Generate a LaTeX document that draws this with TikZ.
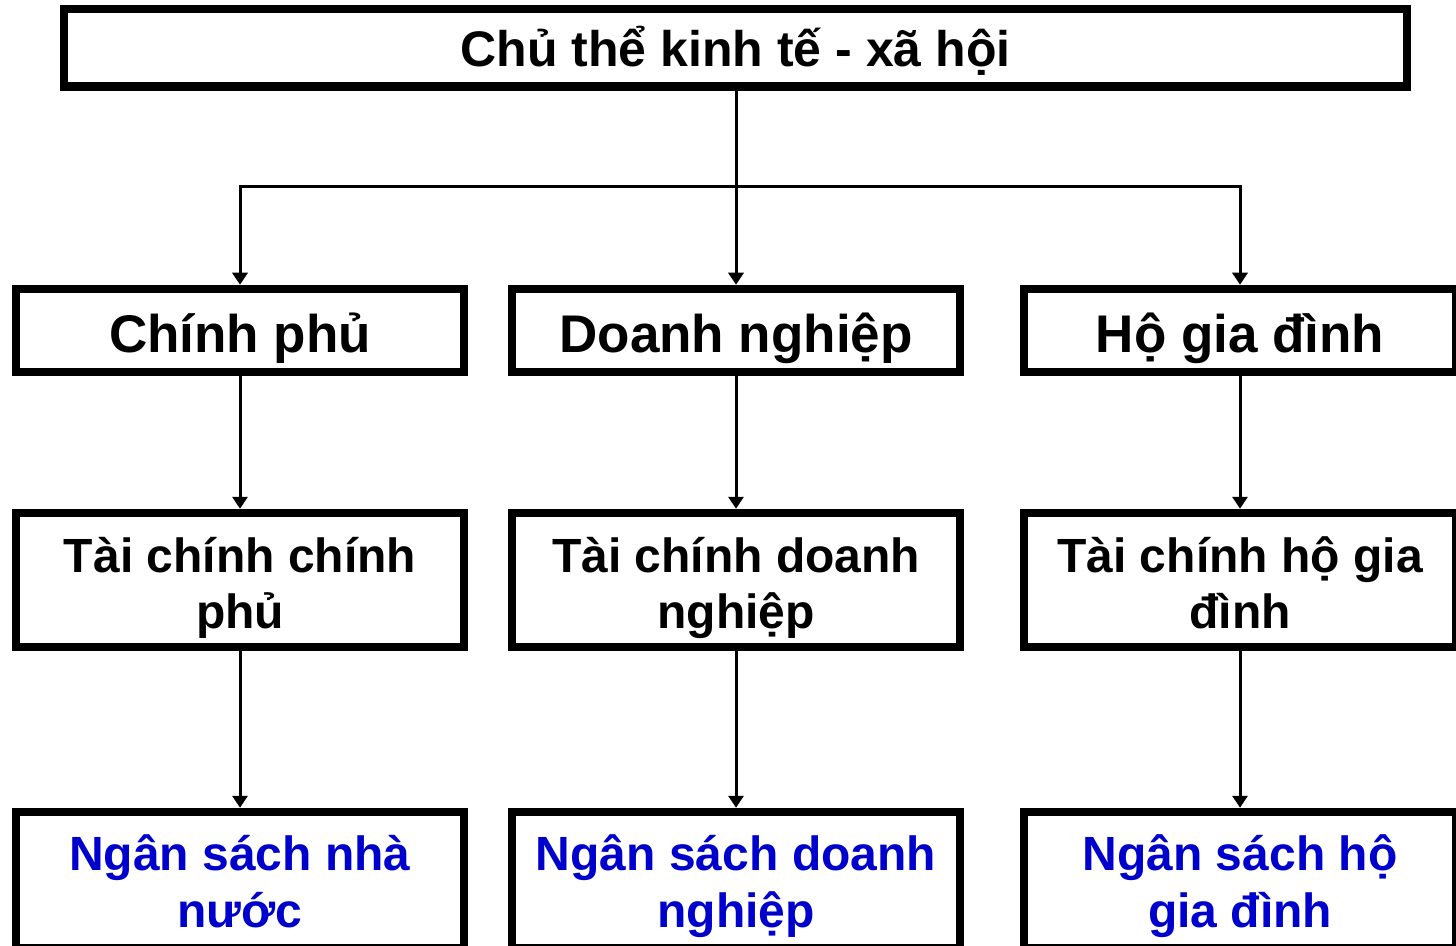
\documentclass[tikz,border=0pt]{standalone}
\usepackage{fontspec}
\setmainfont{Liberation Sans}
\usetikzlibrary{arrows.meta}
\definecolor{budgetblue}{HTML}{0000CC}
% invisible rules that fix the height of a first line and the depth of a last line
\newcommand\raisestrut[1]{\rule{0pt}{#1}}
\newcommand\sinkstrut[1]{\rule[-#1]{0pt}{#1}}
\begin{document}
\begin{tikzpicture}[x=0.5pt,y=-0.5pt,
  box/.style={draw=black, line width=4.25pt, fill=white, inner sep=0pt,
    align=center, font=\bfseries, text=black},
  toprow/.style={box, minimum width=1343*0.5pt, minimum height=77.5*0.5pt,
    font=\fontsize{25}{30}\bfseries\selectfont},
  actor/.style={box, minimum height=83*0.5pt,
    font=\fontsize{26.5}{31}\bfseries\selectfont},
  finance/.style={box, minimum height=134*0.5pt,
    font=\fontsize{24}{28}\bfseries\selectfont},
  budget/.style={box, minimum height=136*0.5pt, text=budgetblue,
    font=\fontsize{24}{28.5}\bfseries\selectfont},
  wide/.style={minimum width=448*0.5pt},
  narrow/.style={minimum width=432*0.5pt},
  link/.style={draw=black, line width=1.5pt},
  arrow/.style={link, -{Triangle[width=7.5pt,length=6pt]}}
]
\useasboundingbox (0,0) rectangle (1456,946);
\begin{scope}
\clip (0,0) rectangle (1456,946);

% top level
\node[toprow] (top) at (735.5,47.75)
  {\raisestrut{25pt}Chủ thể kinh tế - xã hội\sinkstrut{6pt}};

% economic actors
\node[actor,wide]   (gov) at (240,330.5)
  {\raisestrut{28.5pt}Chính phủ\sinkstrut{6pt}};
\node[actor,wide]   (biz) at (736,330.5)
  {\raisestrut{28.5pt}Doanh nghiệp\sinkstrut{6pt}};
\node[actor,narrow] (hh)  at (1240,330.5)
  {\raisestrut{28.5pt}Hộ gia đình\sinkstrut{6pt}};

% finance of each actor
\node[finance,wide]   (fgov) at (240,580)
  {\raisestrut{26pt}Tài chính chính\\phủ\sinkstrut{6pt}};
\node[finance,wide]   (fbiz) at (736,580)
  {\raisestrut{26pt}Tài chính doanh\\nghiệp\sinkstrut{6pt}};
\node[finance,narrow] (fhh)  at (1240,580)
  {\raisestrut{26pt}Tài chính hộ gia\\đình\sinkstrut{6pt}};

% budgets
\node[budget,wide]   (bgov) at (240,880)
  {\raisestrut{24.5pt}Ngân sách nhà\\nước\sinkstrut{6pt}};
\node[budget,wide]   (bbiz) at (736,880)
  {\raisestrut{24.5pt}Ngân sách doanh\\nghiệp\sinkstrut{6pt}};
\node[budget,narrow] (bhh)  at (1240,880)
  {\raisestrut{24.5pt}Ngân sách hộ\\gia đình\sinkstrut{6pt}};
\end{scope}

% branching from the top box
\coordinate (split) at (736,187);
\draw[link] (biz.north |- top.south) -- (split);
\draw[arrow] (split) -| (gov.north);
\draw[arrow] (split) -| (hh.north);
\draw[arrow] (split) -- (biz.north);

% actor -> finance -> budget
\draw[arrow] (gov.south) -- (fgov.north);
\draw[arrow] (biz.south) -- (fbiz.north);
\draw[arrow] (hh.south)  -- (fhh.north);
\draw[arrow] (fgov.south) -- (bgov.north);
\draw[arrow] (fbiz.south) -- (bbiz.north);
\draw[arrow] (fhh.south)  -- (bhh.north);
\end{tikzpicture}
\end{document}
